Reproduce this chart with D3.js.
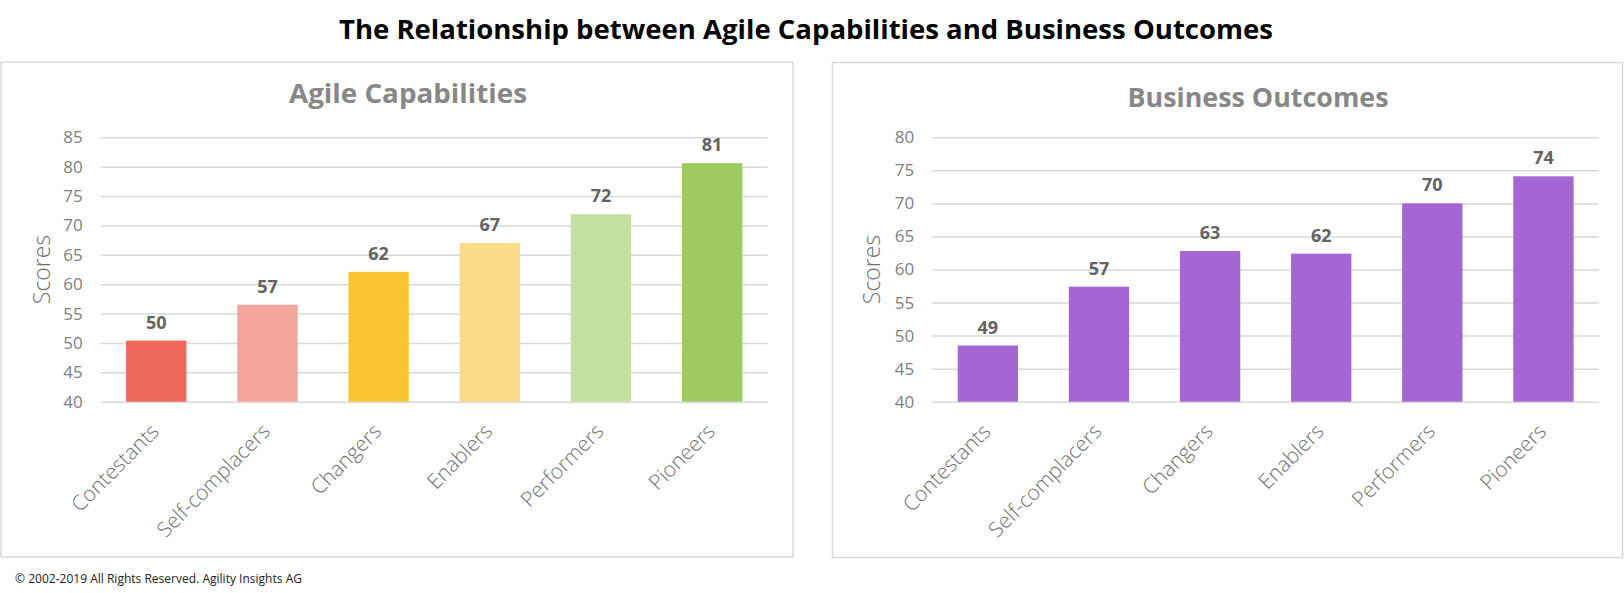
<!DOCTYPE html>
<html>
<head>
<meta charset="utf-8">
<script src="https://cdn.jsdelivr.net/npm/d3@7/dist/d3.min.js"></script>
<style>
  html, body { margin: 0; padding: 0; background: #ffffff; }
  svg { display: block; font-family: "Open Sans", "Noto Sans", sans-serif; }
</style>
</head>
<body>
<svg id="chart" width="1624" height="593"></svg>
<script>
// ---- data ----
const categories = ["Contestants", "Self-complacers", "Changers", "Enablers", "Performers", "Pioneers"];
const agileValues = [50.4, 56.5, 62.1, 67.0, 71.9, 80.6];
const outcomeValues = [48.5, 57.4, 62.8, 62.4, 70.0, 74.1];
const agileTicks = [40, 45, 50, 55, 60, 65, 70, 75, 80, 85];
const outcomeTicks = [40, 45, 50, 55, 60, 65, 70, 75, 80];
const agileColors = ["#ED6A5A", "#F4A59B", "#FAC533", "#FBDB87", "#C4E0A0", "#9DCB62"];
const outcomeColors = ["#A466D3", "#A466D3", "#A466D3", "#A466D3", "#A466D3", "#A466D3"];
const mainTitle = "The Relationship between Agile Capabilities and Business Outcomes";
const footer = "\u00A9 2002-2019 All Rights Reserved.  Agility Insights AG";

const svg = d3.select("#chart");

// main title
svg.append("text")
  .attr("x", 339).attr("y", 39)
  .attr("textLength", 934).attr("lengthAdjust", "spacingAndGlyphs")
  .attr("font-size", 27).attr("font-weight", 700).attr("fill", "#000")
  .text(mainTitle);

// footer
svg.append("text")
  .attr("x", 15).attr("y", 583)
  .attr("textLength", 287).attr("lengthAdjust", "spacingAndGlyphs")
  .attr("font-size", 12.5).attr("fill", "#222")
  .text(footer);

function drawPanel(cfg) {
  const g = svg.append("g");
  // panel border
  g.append("rect")
    .attr("x", cfg.box[0]).attr("y", cfg.box[1])
    .attr("width", cfg.box[2] - cfg.box[0]).attr("height", cfg.box[3] - cfg.box[1])
    .attr("fill", "#fff").attr("stroke", "#d9d9d9").attr("stroke-width", 1.5);

  const x = d3.scaleBand().domain(categories).range([cfg.left, cfg.right])
    .paddingInner(0.457).paddingOuter(0.2285);
  const y = d3.scaleLinear().domain([cfg.ticks[0], cfg.ticks[cfg.ticks.length - 1]])
    .range([cfg.bottom, cfg.top]);

  // y axis + gridlines
  const yAxis = g.append("g").attr("transform", `translate(${cfg.left},0)`)
    .call(d3.axisLeft(y).tickValues(cfg.ticks).tickSize(-(cfg.right - cfg.left)).tickPadding(18));
  yAxis.select(".domain").remove();
  yAxis.selectAll(".tick line").attr("stroke", "#d9d9d9").attr("stroke-width", 1.5);
  yAxis.selectAll(".tick text").attr("font-size", 17).attr("font-weight", 400).attr("fill", "#808080")
    .attr("font-family", "'Open Sans', sans-serif");

  // bars
  g.selectAll("rect.bar").data(cfg.values).join("rect")
    .attr("class", "bar")
    .attr("x", (d, i) => x(categories[i]))
    .attr("width", x.bandwidth())
    .attr("y", d => y(d))
    .attr("height", d => cfg.bottom - y(d))
    .attr("fill", (d, i) => cfg.colors[i]);

  // data labels
  g.selectAll("text.val").data(cfg.values).join("text")
    .attr("class", "val")
    .attr("x", (d, i) => x(categories[i]) + x.bandwidth() / 2)
    .attr("y", d => y(d) - 12)
    .attr("text-anchor", "middle")
    .attr("font-size", 18).attr("font-weight", 700).attr("fill", "#636363")
    .text(d => d3.format(".0f")(Math.round(d)));

  // x axis labels
  const xAxis = g.append("g").attr("transform", `translate(0,${cfg.bottom})`)
    .call(d3.axisBottom(x).tickSize(0).tickPadding(0));
  xAxis.select(".domain").remove();
  xAxis.selectAll(".tick text")
    .attr("font-size", 21).attr("font-weight", 300).attr("fill", "#707070")
    .attr("font-family", "'Open Sans', sans-serif")
    .attr("text-anchor", "end")
    .attr("dy", null).attr("y", null)
    .attr("transform", "translate(4,31) rotate(-45)");

  // y axis title
  g.append("text")
    .attr("transform", `translate(${cfg.yTitleX},${(cfg.top + cfg.bottom) / 2}) rotate(-90)`)
    .attr("text-anchor", "middle").attr("dy", "0.35em")
    .attr("font-size", 23).attr("font-weight", 300).attr("fill", "#707070")
    .text("Scores");

  // panel title
  g.append("text")
    .attr("x", cfg.titleX).attr("y", cfg.titleY)
    .attr("textLength", cfg.titleLen).attr("lengthAdjust", "spacingAndGlyphs")
    .attr("font-size", 27).attr("font-weight", 700).attr("fill", "#878787")
    .text(cfg.title);
}

drawPanel({
  title: "Agile Capabilities", titleX: 289, titleY: 103, titleLen: 238,
  box: [1, 62, 793, 557],
  left: 100.7, right: 767.7, top: 137.3, bottom: 401.7,
  ticks: agileTicks, values: agileValues, colors: agileColors, yTitleX: 41.7
});
drawPanel({
  title: "Business Outcomes", titleX: 1127.5, titleY: 106.7, titleLen: 261,
  box: [832.5, 62.5, 1622.5, 557.5],
  left: 932.3, right: 1599, top: 137.3, bottom: 401.7,
  ticks: outcomeTicks, values: outcomeValues, colors: outcomeColors, yTitleX: 872.3
});
</script>
</body>
</html>
